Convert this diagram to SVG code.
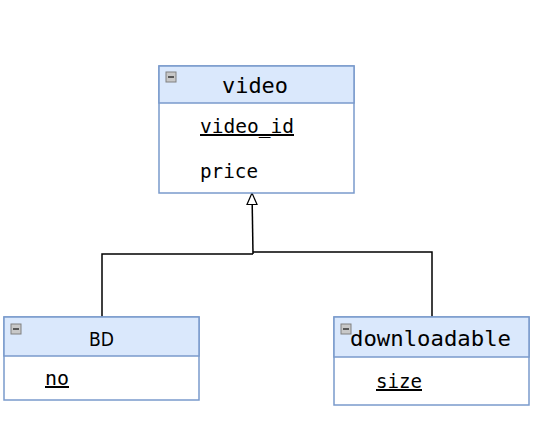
<svg xmlns="http://www.w3.org/2000/svg" width="553" height="445" viewBox="0 0 553 445">
<style>
.box{fill:#ffffff;stroke:#7a9acc;stroke-width:1.5}
.hdr{fill:#dae8fc;stroke:#7a9acc;stroke-width:1.5}
.ico{fill:#c8c8c8;stroke:#808080;stroke-width:1}
.t{font-family:"DejaVu Sans Mono","Liberation Mono",monospace;fill:#000}
.title{font-size:22px}
.attr{font-size:20px}
.u{text-decoration:underline}
.sans{font-family:"DejaVu Sans","Liberation Sans",sans-serif;font-size:19px;fill:#000}
.edge{fill:none;stroke:#000;stroke-width:1.5}
</style>
<g id="connectors">
<path class="edge" d="M102,317 L102,254 L253,254"/>
<path class="edge" d="M432,317 L432,252 L253,252"/>
<path class="edge" d="M253,254 L252.2,204"/>
<polygon points="252,193 257,204.5 247,204.5" fill="#fff" stroke="#000" stroke-width="1.2"/>
</g>
<g id="video">
<rect class="box" x="159" y="66" width="195" height="127"/>
<rect class="hdr" x="159" y="66" width="195" height="37"/>
<rect class="ico" x="166" y="72" width="10" height="10"/>
<line x1="168" y1="77" x2="174" y2="77" stroke="#333" stroke-width="1.5"/>
<text class="t title" x="222" y="93" textLength="66" lengthAdjust="spacingAndGlyphs">video</text>
<text class="t attr u" x="200" y="133" textLength="94" lengthAdjust="spacingAndGlyphs">video_id</text>
<text class="t attr" x="200" y="178" textLength="58" lengthAdjust="spacingAndGlyphs">price</text>
</g>
<g id="BD">
<rect class="box" x="4" y="317" width="195" height="83"/>
<rect class="hdr" x="4" y="317" width="195" height="39"/>
<rect class="ico" x="11" y="324" width="10" height="10"/>
<line x1="13" y1="329" x2="19" y2="329" stroke="#333" stroke-width="1.5"/>
<text class="sans" x="89" y="346" textLength="25" lengthAdjust="spacingAndGlyphs">BD</text>
<text class="t attr u" x="45" y="385" textLength="24" lengthAdjust="spacingAndGlyphs">no</text>
</g>
<g id="downloadable">
<rect class="box" x="334" y="317" width="195" height="88"/>
<rect class="hdr" x="334" y="317" width="195" height="40"/>
<rect class="ico" x="341" y="324" width="10" height="10"/>
<line x1="343" y1="329" x2="349" y2="329" stroke="#333" stroke-width="1.5"/>
<text class="t title" x="350" y="346" textLength="161" lengthAdjust="spacingAndGlyphs">downloadable</text>
<text class="t attr u" x="376" y="388" textLength="46" lengthAdjust="spacingAndGlyphs">size</text>
</g>
</svg>
